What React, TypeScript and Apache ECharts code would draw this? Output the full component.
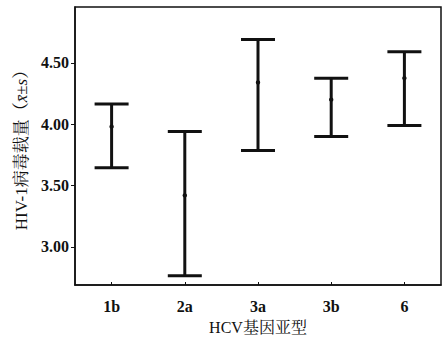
import React, { useEffect, useRef } from "react";
import * as echarts from "echarts";

const categories = ["1b", "2a", "3a", "3b", "6"];
const means = [3.98, 3.42, 4.34, 4.2, 4.375];
const lows = [3.645, 2.765, 3.785, 3.9, 3.99];
const highs = [4.165, 3.94, 4.69, 4.375, 4.59];
const yTicks = [3.0, 3.5, 4.0, 4.5];

const FONT = "'Liberation Serif', 'Noto Serif CJK SC', 'Noto Sans CJK SC', serif";

export default function App() {
  const ref = useRef<HTMLDivElement>(null);
  useEffect(() => {
    if (!ref.current) return;
    const chart = echarts.init(ref.current, undefined, { renderer: "svg" });
    const data = categories.map((_, i) => [i, lows[i], highs[i], means[i]]);
    chart.setOption({
      animation: false,
      backgroundColor: "#ffffff",
      grid: {
        left: 75,
        right: 4,
        top: 7,
        bottom: 52,
        show: true,
        borderColor: "#111",
        borderWidth: 1.5,
        backgroundColor: "transparent",
      },
      xAxis: {
        type: "category",
        data: categories,
        boundaryGap: true,
        axisLine: { show: true, lineStyle: { color: "#111", width: 1.5 } },
        axisTick: { show: true, inside: true, length: 3, alignWithLabel: true, lineStyle: { color: "#111" } },
        axisLabel: { color: "#111", fontFamily: FONT, fontSize: 16, fontWeight: "bold", margin: 13 },
        splitLine: { show: false },
        name: "HCV基因亚型",
        nameLocation: "middle",
        nameGap: 34,
        nameTextStyle: { color: "#111", fontFamily: FONT, fontSize: 16 },
      },
      yAxis: {
        type: "value",
        min: 2.69,
        max: 4.955,
        axisLine: { show: true, lineStyle: { color: "#111", width: 1.5 } },
        axisTick: { show: true, inside: false, length: 4, customValues: yTicks, lineStyle: { color: "#111" } },
        axisLabel: {
          color: "#111",
          fontFamily: FONT,
          fontSize: 16,
          fontWeight: "bold",
          margin: 6,
          customValues: yTicks,
          formatter: (v: number) => v.toFixed(2),
        },
        splitLine: { show: false },
        name: "HIV-1病毒载量（{i|x̄}±{i|s}）",
        nameLocation: "middle",
        nameGap: 43,
        nameTextStyle: {
          color: "#111",
          fontFamily: FONT,
          fontSize: 17,
          rich: {
            i: { fontFamily: FONT, fontSize: 17, fontStyle: "italic", color: "#111" },
          },
        },
      },
      series: [
        {
          type: "custom",
          data,
          renderItem: (params: any, api: any) => {
            const x = api.value(0);
            const lo = api.coord([x, api.value(1)]);
            const hi = api.coord([x, api.value(2)]);
            const mid = api.coord([x, api.value(3)]);
            const half = 17;
            const st = { stroke: "#111", lineWidth: 3 };
            return {
              type: "group",
              children: [
                { type: "line", shape: { x1: hi[0], y1: hi[1], x2: lo[0], y2: lo[1] }, style: st },
                { type: "line", shape: { x1: hi[0] - half, y1: hi[1], x2: hi[0] + half, y2: hi[1] }, style: st },
                { type: "line", shape: { x1: lo[0] - half, y1: lo[1], x2: lo[0] + half, y2: lo[1] }, style: st },
                { type: "circle", shape: { cx: mid[0], cy: mid[1], r: 2.2 }, style: { fill: "#111" } },
              ],
            };
          },
        },
      ],
    });
    return () => chart.dispose();
  }, []);
  return <div ref={ref} style={{ width: 445, height: 340, position: "absolute", left: 0, top: 0 }} />;
}
